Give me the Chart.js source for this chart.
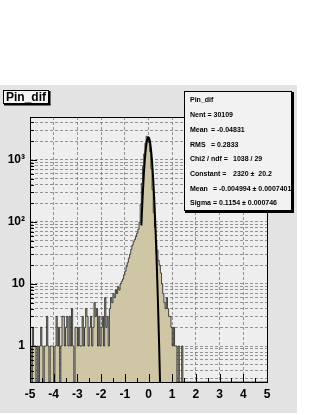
<!DOCTYPE html>
<html>
<head>
<title>Pin_dif</title>
<script src="https://cdn.jsdelivr.net/npm/chart.js@4.4.8/dist/chart.umd.min.js"></script>
<style>
  html, body { margin: 0; padding: 0; background: #fff; }
</style>
</head>
<body>
<canvas id="histChart" width="321" height="415"></canvas>
<script>
// histogram: 200 bins of 0.05 from -5 to 5
const binLow = -5;
const binWidth = 0.05;
const counts = [
  2, 1, 0, 2, 1, 1, 0, 1, 0, 1,   2, 1, 0, 1, 1, 3, 1, 0, 1, 1,
  1, 0, 1, 3, 1, 2, 0, 1, 3, 3,   1, 2, 3, 1, 3, 1, 4, 1, 0, 2,
  2, 1, 2, 1, 1, 3, 1, 2, 4, 3,   1, 2, 3, 1, 2, 5, 3, 4, 1, 3,
  1, 2, 3, 1, 6, 2, 3, 1, 4, 6,   5, 7, 6, 8, 7, 9, 8, 10, 11, 12,
  14, 16, 19, 22, 26, 30, 36, 42, 48, 52,
  58, 66, 76, 98, 190, 420, 780, 1250, 1850, 2400,
  2300, 1900, 1350, 720, 330, 140, 80, 50, 35, 24,
  20, 15, 10, 7, 5, 4, 6, 4, 3, 3,
  2, 1, 2, 1, 1, 0, 1, 0, 0, 1,
  0, 0, 0, 0, 0, 0, 0, 0, 0, 0,   0, 0, 0, 0, 0, 0, 0, 0, 0, 0,
  0, 0, 0, 0, 0, 0, 0, 0, 0, 0,   0, 0, 0, 0, 0, 0, 0, 0, 0, 0,
  0, 0, 0, 0, 0, 0, 0, 0, 0, 0,   0, 0, 0, 0, 0, 0, 0, 0, 0, 0,
  0, 0, 0, 0, 0, 0, 0, 0, 0, 0
];

// gaussian fit curve
const fitX = [-0.30, -0.25, -0.20, -0.15, -0.10, -0.05, 0, 0.05, 0.10, 0.15, 0.20, 0.25, 0.30, 0.35, 0.40, 0.45, 0.50];
const fitY = [88, 244, 556, 1054, 1653, 2150, 2318, 2071, 1534, 941, 479, 202, 70, 20, 4.9, 0.98, 0.16];

const xTicks = [-5, -4, -3, -2, -1, 0, 1, 2, 3, 4, 5];
const yTicks = [0.3, 0.4, 0.5, 0.6, 0.7, 0.8, 0.9,
  1, 2, 3, 4, 5, 6, 7, 8, 9,
  10, 20, 30, 40, 50, 60, 70, 80, 90,
  100, 200, 300, 400, 500, 600, 700, 800, 900,
  1000, 2000, 3000, 4000];
const yLabels = { 1: '1', 10: '10', 100: '10\u00b2', 1000: '10\u00b3' };
const yMin = 0.263, yMax = 4900;

const histTitle = 'Pin_dif';
const statsLines = [
  ['Pin_dif', ''],
  ['Nent = 30109', ''],
  ['Mean', '= -0.04831'],
  ['RMS', '= 0.2833'],
  ['Chi2 / ndf =', '1038 / 29'],
  ['Constant =', '2320 \u00b1  20.2'],
  ['Mean', '= -0.004994 \u00b1 0.0007401'],
  ['Sigma', '= 0.1154 \u00b1 0.000746']
];
const statsValueX = [0, 0, 211, 211, 233, 233, 213, 213];

// step outline: one point per lower bin edge plus the last upper edge
const histPoints = counts.map((c, i) => ({ x: binLow + i * binWidth, y: c > 0 ? c : yMin }));
histPoints.push({ x: binLow + counts.length * binWidth, y: yMin });
const fitPoints = fitX.map((x, i) => ({ x: x, y: fitY[i] }));

const FONT = '"Liberation Sans", Arial, sans-serif';

const rootLook = {
  id: 'rootLook',
  beforeDraw(chart) {
    const ctx = chart.ctx, a = chart.chartArea;
    ctx.save();
    ctx.fillStyle = '#ffffff';
    ctx.fillRect(0, 0, chart.width, chart.height);
    ctx.fillStyle = '#e3e3e3';
    ctx.fillRect(0, 85, 297, 328);
    ctx.fillStyle = '#eeeeee';
    ctx.fillRect(a.left, a.top, a.right - a.left, a.bottom - a.top);
    ctx.restore();
  },
  afterDraw(chart) {
    const ctx = chart.ctx, a = chart.chartArea;
    const xs = chart.scales.x, ys = chart.scales.y;
    ctx.save();
    // frame
    ctx.strokeStyle = '#000';
    ctx.lineWidth = 1;
    ctx.strokeRect(Math.round(a.left) + 0.5, Math.round(a.top) + 0.5,
      Math.round(a.right - a.left), Math.round(a.bottom - a.top));
    // inner ticks
    ctx.beginPath();
    for (let v = -5; v <= 5.001; v += 0.5) {
      const px = Math.round(xs.getPixelForValue(v)) + 0.5;
      const len = Math.abs(v - Math.round(v)) < 0.01 ? 8 : 4;
      ctx.moveTo(px, a.bottom);
      ctx.lineTo(px, a.bottom - len);
    }
    yTicks.forEach(v => {
      const py = Math.round(ys.getPixelForValue(v)) + 0.5;
      const len = yLabels[v] ? 7 : 4;
      ctx.moveTo(a.left, py);
      ctx.lineTo(a.left + len, py);
    });
    ctx.stroke();

    // title box
    ctx.fillStyle = '#f4f4f4';
    ctx.fillRect(3, 90, 46, 14);
    ctx.fillStyle = '#000';
    ctx.fillRect(49, 91, 1.5, 14);
    ctx.fillRect(4, 104, 46.5, 1.5);
    ctx.strokeRect(3.5, 90.5, 45, 13);
    ctx.font = 'bold 12px ' + FONT;
    ctx.textAlign = 'center';
    ctx.textBaseline = 'middle';
    ctx.fillText(histTitle, 26, 97.5);

    // stats box
    ctx.fillStyle = '#f2f2f2';
    ctx.fillRect(184, 91, 108, 120);
    ctx.fillStyle = '#000';
    ctx.fillRect(292, 92, 2, 121);
    ctx.fillRect(185, 211, 109, 2);
    ctx.strokeRect(184.5, 91.5, 107, 119);
    ctx.font = 'bold 7px ' + FONT;
    ctx.textAlign = 'left';
    const lineY = [100, 115, 130, 145, 159, 174, 189, 203];
    statsLines.forEach((ln, i) => {
      ctx.fillText(ln[0], 190, lineY[i]);
      if (ln[1]) ctx.fillText(ln[1], statsValueX[i], lineY[i]);
    });
    ctx.restore();
  }
};

new Chart(document.getElementById('histChart'), {
  type: 'line',
  data: {
    datasets: [
      {
        label: 'Pin_dif',
        data: histPoints,
        stepped: 'after',
        borderColor: '#1a1a1a',
        borderWidth: 0.8,
        backgroundColor: 'rgb(206,198,164)',
        fill: 'start',
        pointRadius: 0,
        order: 2
      },
      {
        label: 'gaus',
        data: fitPoints,
        borderColor: '#000000',
        borderWidth: 2,
        cubicInterpolationMode: 'monotone',
        fill: false,
        pointRadius: 0,
        order: 1
      }
    ]
  },
  options: {
    responsive: false,
    animation: false,
    events: [],
    layout: { padding: { left: 0, top: 117, right: 54, bottom: 0 } },
    plugins: { legend: { display: false }, tooltip: { enabled: false }, title: { display: false } },
    scales: {
      x: {
        type: 'linear',
        min: -5,
        max: 5,
        z: 1,
        afterBuildTicks: s => { s.ticks = xTicks.map(v => ({ value: v })); },
        afterFit: s => { s.height = 33; },
        grid: { color: 'rgba(110,110,110,0.7)', lineWidth: 1, drawTicks: false },
        border: { display: false, dash: [3, 2] },
        ticks: {
          autoSkip: false, maxRotation: 0, padding: 5, color: '#000',
          font: { family: FONT, size: 12, weight: 'bold' },
          callback: v => String(v)
        }
      },
      y: {
        type: 'logarithmic',
        min: yMin,
        max: yMax,
        z: 1,
        afterBuildTicks: s => { s.ticks = yTicks.map(v => ({ value: v })); },
        afterFit: s => { s.width = 30; },
        grid: { color: 'rgba(110,110,110,0.7)', lineWidth: 1, drawTicks: false },
        border: { display: false, dash: [3, 2] },
        ticks: {
          autoSkip: false, padding: 5, color: '#000',
          font: { family: FONT, size: 12, weight: 'bold' },
          callback: v => yLabels[v] || ''
        }
      }
    }
  },
  plugins: [rootLook]
});
</script>
</body>
</html>
